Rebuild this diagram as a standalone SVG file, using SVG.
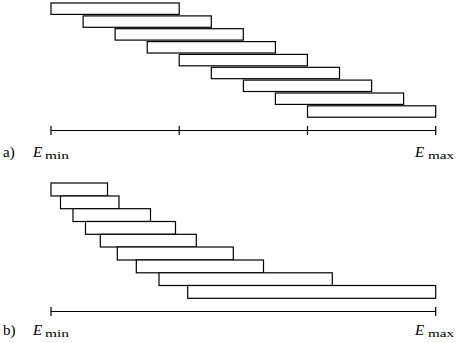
<svg xmlns="http://www.w3.org/2000/svg" width="457" height="343" viewBox="0 0 457 343">
<style>
.bar{fill:#fff;stroke:#000;stroke-width:1.2}
.ax{stroke:#000;stroke-width:1.2;fill:none}
.t{font-family:"Liberation Serif","Times New Roman",serif;font-size:15px;fill:#000}
.it{font-style:italic}
.sub{font-family:"Liberation Serif","Times New Roman",serif;font-size:11px;fill:#000}
</style>
<g id="panel-a">
<g id="a-bar1"><rect class="bar" x="51" y="3" width="128.2" height="11.4"/></g>
<g id="a-bar2"><rect class="bar" x="83.1" y="15.9" width="128.2" height="11.4"/></g>
<g id="a-bar3"><rect class="bar" x="115.1" y="28.7" width="128.2" height="11.4"/></g>
<g id="a-bar4"><rect class="bar" x="147.2" y="41.6" width="128.2" height="11.4"/></g>
<g id="a-bar5"><rect class="bar" x="179.2" y="54.4" width="128.2" height="11.4"/></g>
<g id="a-bar6"><rect class="bar" x="211.3" y="67.3" width="128.2" height="11.4"/></g>
<g id="a-bar7"><rect class="bar" x="243.4" y="80.1" width="128.2" height="11.4"/></g>
<g id="a-bar8"><rect class="bar" x="275.4" y="93" width="128.2" height="11.4"/></g>
<g id="a-bar9"><rect class="bar" x="307.5" y="105.8" width="128.2" height="11.4"/></g>
<g id="a-axis">
<path class="ax" d="M51,130.5H435.7M51,126V135M179.2,126V135M307.5,126V135M435.7,126V135"/>
</g>
<g id="a-labels">
<text class="t" x="3" y="157">a)</text>
<text class="t it" x="33" y="157">E</text>
<text class="sub" x="45" y="159" textLength="24" lengthAdjust="spacingAndGlyphs">min</text>
<text class="t it" x="415" y="157">E</text>
<text class="sub" x="428" y="159" textLength="26" lengthAdjust="spacingAndGlyphs">max</text>
</g>
</g>
<g id="panel-b">
<g id="b-bar1"><rect class="bar" x="51" y="183" width="56.5" height="13"/></g>
<g id="b-bar2"><rect class="bar" x="60.5" y="196" width="58.5" height="12.7"/></g>
<g id="b-bar3"><rect class="bar" x="73" y="208.7" width="77.5" height="12.8"/></g>
<g id="b-bar4"><rect class="bar" x="85.5" y="221.5" width="90" height="12.8"/></g>
<g id="b-bar5"><rect class="bar" x="100.3" y="234.3" width="96" height="12.7"/></g>
<g id="b-bar6"><rect class="bar" x="117.3" y="247" width="116" height="13"/></g>
<g id="b-bar7"><rect class="bar" x="136.3" y="260" width="127.2" height="12.8"/></g>
<g id="b-bar8"><rect class="bar" x="159" y="272.8" width="173.3" height="12.7"/></g>
<g id="b-bar9"><rect class="bar" x="187.7" y="285.5" width="248" height="12.8"/></g>
<g id="b-axis">
<path class="ax" d="M51,311.5H435.7M51,307V316M435.7,307V316"/>
</g>
<g id="b-labels">
<text class="t" x="3" y="335">b)</text>
<text class="t it" x="33" y="335">E</text>
<text class="sub" x="45" y="337" textLength="24" lengthAdjust="spacingAndGlyphs">min</text>
<text class="t it" x="415" y="335">E</text>
<text class="sub" x="428" y="337" textLength="26" lengthAdjust="spacingAndGlyphs">max</text>
</g>
</g>
</svg>
